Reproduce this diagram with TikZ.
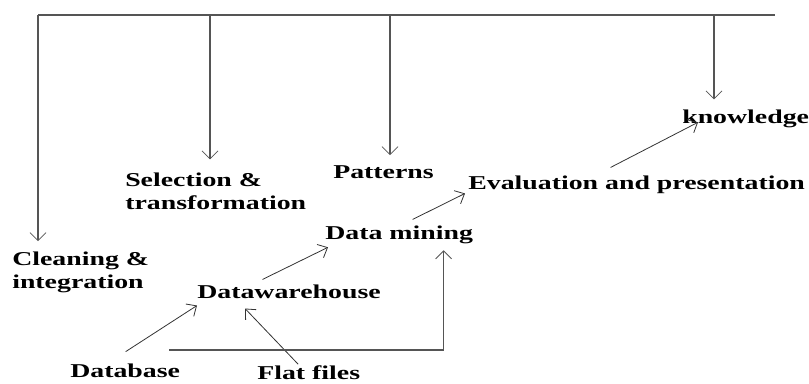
\documentclass[tikz,border=0pt]{standalone}
\usepackage{fontspec}
\usepackage{tikz}
\usetikzlibrary{arrows.meta}
\newfontfamily\lblfont{Liberation Serif}[FakeStretch=1.42]
\definecolor{wiregrey}{RGB}{85,85,85}
\tikzset{
  lbl/.style={inner sep=0pt,anchor=base west,align=left,
    font=\lblfont\bfseries\fontsize{14.7}{17.25}\selectfont},
  drop/.style={wiregrey,line width=1.3pt,-{Straight Barb[length=6pt,width=12pt,line width=0.6pt]}},
  flow/.style={black!80,line width=0.6pt,-{Straight Barb[length=6pt,width=11pt]}}
}

\begin{document}
\begin{tikzpicture}[x=0.75pt,y=-0.75pt]
     \useasboundingbox (0,0) rectangle (809,383);
     \node[lbl] (clean) at (12,288) {Cleaning \&\\integration};
     \node[lbl] (sel) at (125,209) {Selection \&\\transformation};
     \node[lbl] (pat) at (333,178) {Patterns};
     \node[lbl] (know) at (682,123) {knowledge};
     \node[lbl] (ev) at (468,189) {Evaluation and presentation};
     \node[lbl] (dm) at (325,239) {Data mining};
     \node[lbl] (dw) at (197,298) {Datawarehouse};
     \node[lbl] (db) at (70,377) {Database};
     \node[lbl] (ff) at (257,379) {Flat files};
     % bus along the top, with the taps
     \coordinate (t1) at (38,15);
     \coordinate (t2) at (210,15);
     \coordinate (t3) at (390,15);
     \coordinate (t4) at (714,15);
     \coordinate (tend) at (775,15);
     \draw[wiregrey,line width=1.3pt] (t1) -- (tend);
     \draw[drop] (t1) -- ([yshift=7.5pt]t1 |- clean.north);
     \draw[drop] (t2) -- ([yshift=9.5pt]t2 |- sel.north);
     \draw[drop] (t3) -- ([yshift=7.3pt]t3 |- pat.north);
     \draw[drop] (t4) -- ([yshift=7.3pt]t4 |- know.north);
     % sources into the warehouse and up the chain
     \draw[flow] ([shift={(0.5,-11.5)}]db.north) -- ([shift={(0,7)}]dw.south west);
     \draw[flow] ([shift={(-10.5,-0.7)}]ff.north) -- ([shift={(48,10)}]dw.south west);
     \draw[flow] ([shift={(-26.5,-4.7)}]dw.north) -- ([shift={(3,3.7)}]dm.south west);
     \draw[flow] ([shift={(13.5,-5.7)}]dm.north) -- ([shift={(-3,0)}]ev.south west);
     \draw[flow] ([shift={(-26,-7.7)}]ev.north) -- ([shift={(16,-5.3)}]know.south west);
     \draw[drop] ([shift={(-11,-13.5)}]db.north east) -| ([shift={(44.5,6.7)}]dm.south);
   \end{tikzpicture}
\end{document}
